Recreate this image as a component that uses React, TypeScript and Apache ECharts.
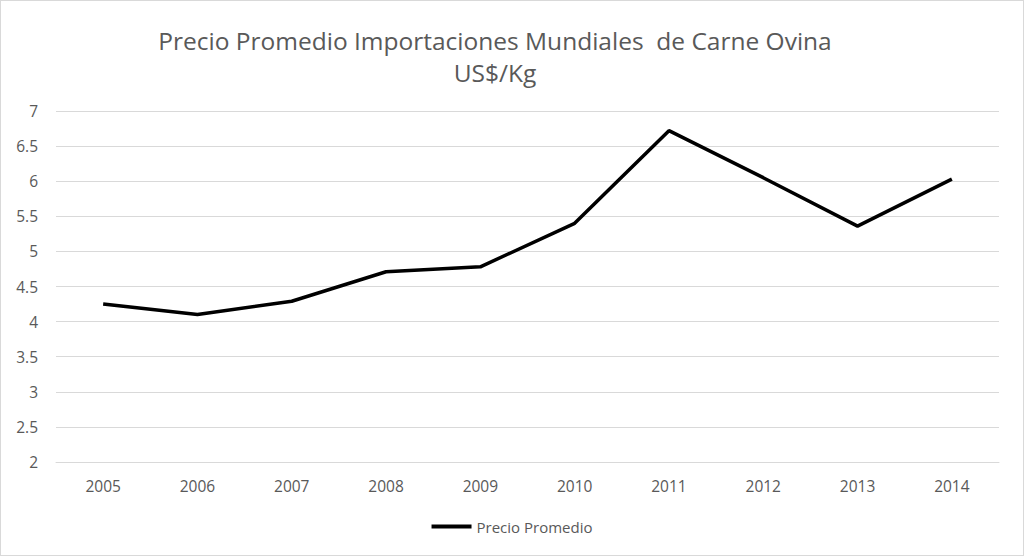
import React, { useEffect, useRef } from "react";
import * as echarts from "echarts";

const years = ["2005", "2006", "2007", "2008", "2009", "2010", "2011", "2012", "2013", "2014"];
const precioPromedio = [4.25, 4.1, 4.29, 4.71, 4.78, 5.4, 6.72, 6.05, 5.36, 6.03];
const titleLine1 = "Precio Promedio Importaciones Mundiales  de Carne Ovina";
const titleLine2 = "US$/Kg";
const seriesName = "Precio Promedio";

export default function App() {
  const ref = useRef<HTMLDivElement>(null);
  useEffect(() => {
    if (!ref.current) return;
    const chart = echarts.init(ref.current, null, { renderer: "svg" });
    const font = "'Open Sans', 'Noto Sans', sans-serif";
    chart.setOption({
      animation: false,
      backgroundColor: "#ffffff",
      title: {
        text: titleLine1 + "\n" + titleLine2,
        left: 489,
        top: 18,
        textAlign: "center",
        textStyle: {
          fontFamily: font,
          fontSize: 24.5,
          fontWeight: "normal",
          color: "#595959",
          lineHeight: 32,
        },
      },
      legend: {
        bottom: 16,
        left: "center",
        itemWidth: 40,
        itemHeight: 4,
        icon: "rect",
        data: [seriesName],
        textStyle: { fontFamily: font, fontSize: 15, color: "#595959" },
      },
      grid: { left: 55, right: 24, top: 110, bottom: 93, containLabel: false },
      xAxis: {
        type: "category",
        data: years,
        boundaryGap: true,
        axisLine: { show: true, lineStyle: { color: "#d9d9d9" } },
        axisTick: { show: false },
        axisLabel: { fontFamily: font, fontSize: 15.5, color: "#595959", margin: 16 },
      },
      yAxis: {
        type: "value",
        min: 2,
        max: 7,
        interval: 0.5,
        axisLine: { show: false },
        axisTick: { show: false },
        splitLine: { lineStyle: { color: "#d9d9d9" } },
        axisLabel: { fontFamily: font, fontSize: 15.5, color: "#595959", margin: 18 },
      },
      series: [
        {
          name: seriesName,
          type: "line",
          data: precioPromedio,
          showSymbol: false,
          symbol: "none",
          lineStyle: { color: "#000000", width: 3.5 },
          itemStyle: { color: "#000000" },
        },
      ],
    });
    return () => chart.dispose();
  }, []);
  return (
    <div
      ref={ref}
      style={{
        position: "fixed",
        left: 0,
        top: 0,
        width: 1024,
        height: 556,
        boxSizing: "border-box",
        border: "1px solid #d9d9d9",
      }}
    />
  );
}
